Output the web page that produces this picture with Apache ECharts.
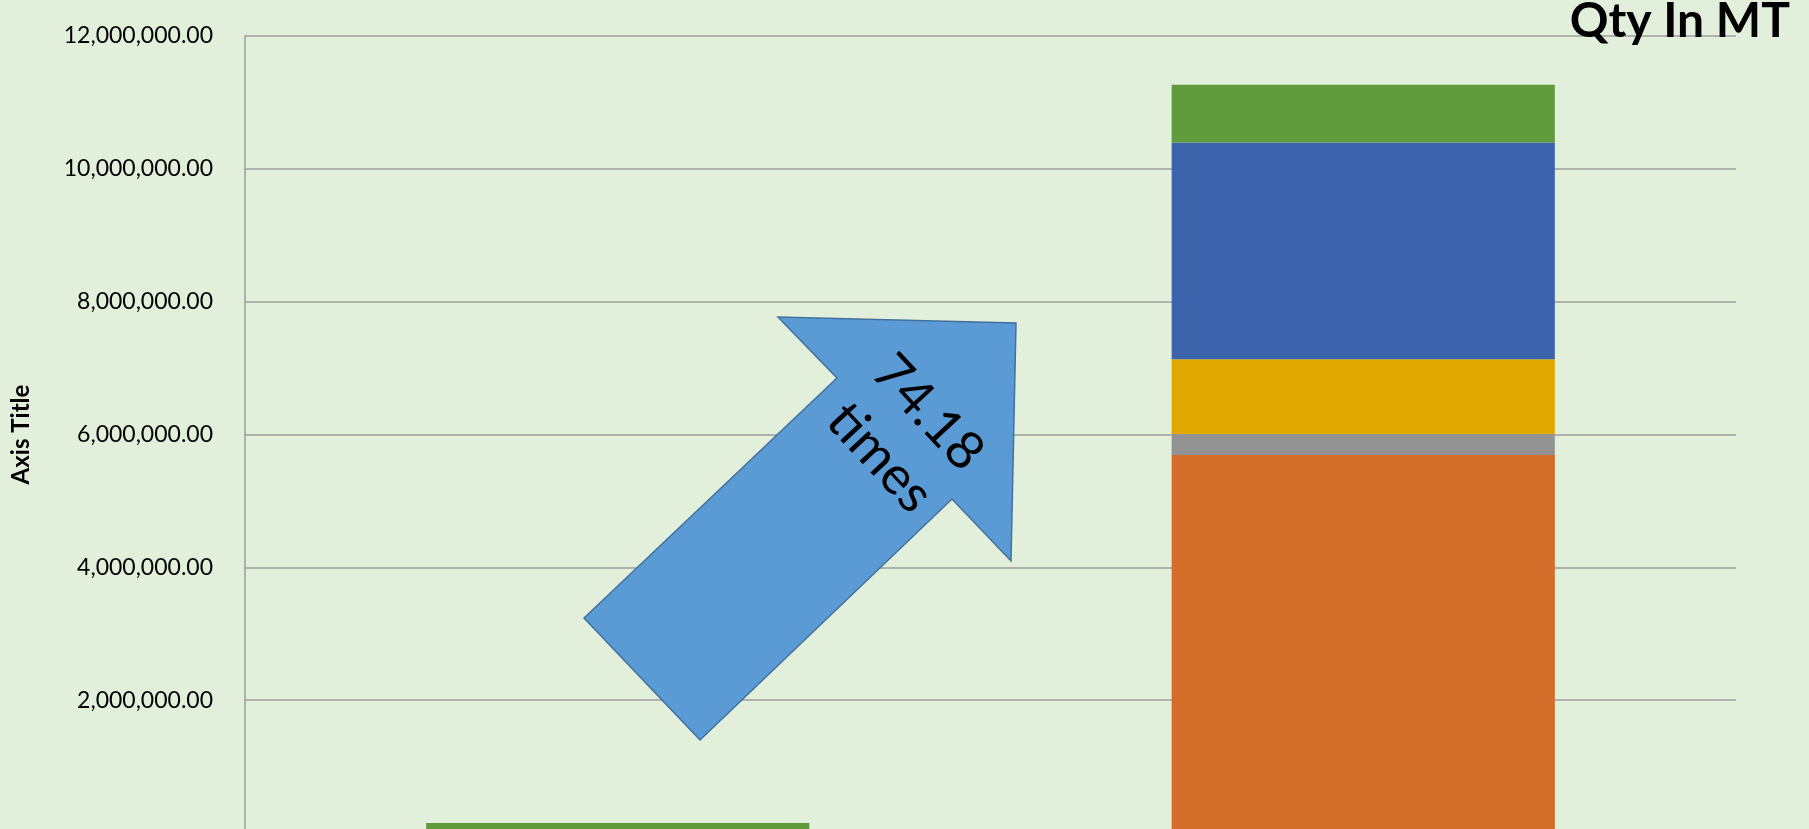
<!DOCTYPE html>
<html>
<head>
<meta charset="utf-8">
<script src="https://cdn.jsdelivr.net/npm/echarts@6/dist/echarts.min.js"></script>
<style>
html,body{margin:0;padding:0;background:#E2EFDA;overflow:hidden;}
#chart{width:1809px;height:829px;}
</style>
</head>
<body>
<div id="chart"></div>
<script>
// ---- data ----
const categories = ['Period 1', 'Period 2'];
const seriesNames = ['Series 1', 'Series 2', 'Series 3', 'Series 4', 'Series 5'];
const series1 = [0, 5693000];
const series2 = [0, 316000];
const series3 = [0, 1125000];
const series4 = [0, 3262000];
const series5 = [151900, 869000];
const yTicks = [0, 2000000, 4000000, 6000000, 8000000, 10000000, 12000000];
const titleText = 'Qty In MT';
const yAxisTitle = 'Axis Title';
const arrowText = '74.18\ntimes';

const colors = ['#D36E2A', '#939393', '#E1A900', '#3C64AC', '#629A3E'];
const allSeries = [series1, series2, series3, series4, series5];

const chart = echarts.init(document.getElementById('chart'));
const fmt = v => Number(v).toLocaleString('en-US', {minimumFractionDigits: 2, maximumFractionDigits: 2});

const option = {
  backgroundColor: '#E2EFDA',
  animation: false,
  grid: {left: 245, right: 73, top: 36, height: 797, containLabel: false, outerBoundsMode: 'none'},
  xAxis: {
    type: 'category',
    data: categories,
    axisLine: {show: false},
    axisTick: {show: false},
    axisLabel: {show: false}
  },
  yAxis: {
    type: 'value',
    min: yTicks[0],
    max: yTicks[yTicks.length - 1],
    interval: yTicks[1] - yTicks[0],
    name: yAxisTitle,
    nameLocation: 'middle',
    nameGap: 212,
    nameRotate: 90,
    nameTextStyle: {fontFamily: 'Lato', fontWeight: 'bold', fontSize: 24, color: '#000'},
    axisLine: {show: true, lineStyle: {color: '#9C9C9C', width: 1.5}},
    axisTick: {show: false},
    splitLine: {show: true, lineStyle: {color: '#9C9C9C', width: 1.5}},
    axisLabel: {
      showMinLabel: false,
      margin: 32,
      fontFamily: 'Lato',
      fontSize: 23,
      color: '#000',
      formatter: v => fmt(v)
    }
  },
  series: allSeries.map((d, i) => ({
    name: seriesNames[i],
    type: 'bar',
    stack: 'total',
    data: d,
    barWidth: '51.4%',
    itemStyle: {color: colors[i]}
  })),
  graphic: [
    {
      type: 'polygon',
      z: 100,
      shape: {points: [[584, 618], [837, 378], [778, 317], [1016, 323], [1011, 561], [952, 499], [700, 740]]},
      style: {fill: '#5B9BD5', stroke: '#41719C', lineWidth: 1.5}
    },
    {
      type: 'text',
      z: 101,
      x: 904, y: 435,
      rotation: -47 * Math.PI / 180,
      style: {
        text: arrowText,
        fontFamily: 'Lato', fontSize: 53, lineHeight: 66,
        fill: '#000', align: 'center', verticalAlign: 'middle'
      }
    },
    {
      type: 'text',
      z: 101,
      x: 1790, y: 22,
      style: {
        text: titleText,
        fontFamily: 'Lato', fontWeight: 'bold', fontSize: 48,
        fill: '#000', align: 'right', verticalAlign: 'middle'
      }
    }
  ]
};
chart.setOption(option);
</script>
</body>
</html>
